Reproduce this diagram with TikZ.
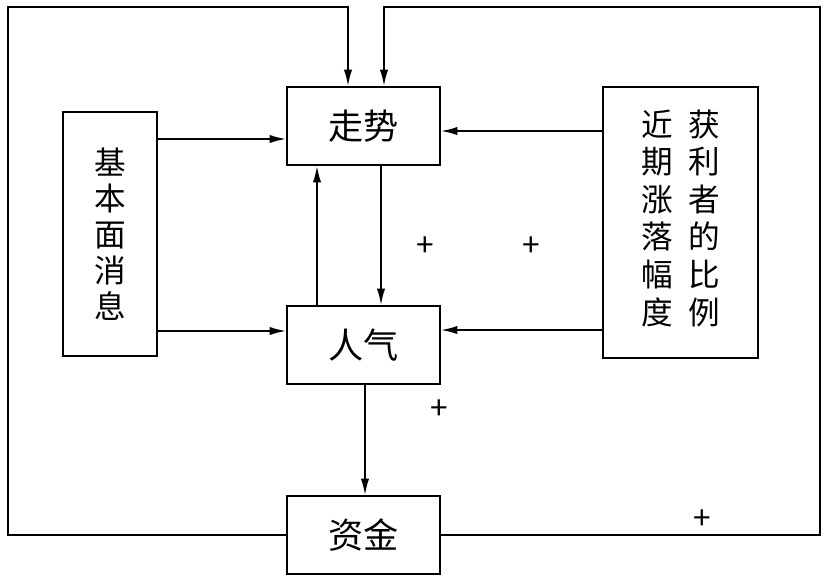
\documentclass[tikz,border=0pt]{standalone}
\usepackage{fontspec}
\setmainfont{Noto Sans CJK SC}
\usetikzlibrary{calc,shapes,arrows.meta}
\tikzstyle{every picture}=[->,>={Latex[length=14pt,width=7pt]}]

\begin{document}
\begin{tikzpicture}[x=0.3mm,y=-0.3mm,line width=1.5pt]
{
\useasboundingbox (0,0) rectangle (827,584);
\begin{scope}[every node/.style={rectangle,draw,line width=1.5pt,inner sep=0pt,align=center}]
    \node[minimum width=45.9mm,minimum height=23.4mm,font=\fontsize{30}{36}\selectfont](trend) at (363.5,126) {走势};
    \node[minimum width=45.9mm,minimum height=23.4mm,font=\fontsize{30}{36}\selectfont](mood) at (363.5,345) {人气};
    \node[minimum width=45.9mm,minimum height=23.4mm,font=\fontsize{30}{36}\selectfont](fund) at (363.5,535) {资金};
    \node[minimum width=28.2mm,minimum height=73.2mm,font=\fontsize{27}{30.7}\selectfont](news) at (110,234) {基\\本\\面\\消\\息};
    \node[minimum width=46.5mm,minimum height=81.3mm,font=\fontsize{27}{31.5}\selectfont](ratio) at (680.5,222.5)
        {\begin{tabular}{@{}c@{\hspace{13pt}}c@{}}
        近&获\\ 期&利\\ 涨&者\\ 落&的\\ 幅&比\\ 度&例\end{tabular}};
\end{scope}
\begin{scope}[every node/.style={font=\fontsize{27}{30}\selectfont}]
    \node(p1) at (425,247) {+};
    \node(p2) at (531,247) {+};
    \node(p3) at (439,410) {+};
    \node(p4) at (702,520) {+};
\end{scope}

% rows and columns of the connectors
\coordinate(r1) at (0,139);
\coordinate(r2) at (0,331);
\coordinate(r3) at (0,131);
\coordinate(r4) at (0,330);
\coordinate(c1) at (317,0);
\coordinate(c2) at (381,0);
\coordinate(c3) at (365,0);
\coordinate(lt) at (8,7);
\coordinate(rt) at (820,7);
\coordinate(la) at (348,7);
\coordinate(ra) at (384,7);

\path[draw] (news.east |- r1) -- (trend.west |- r1);
\path[draw] (news.east |- r2) -- (mood.west |- r2);
\path[draw] (ratio.west |- r3) -- (trend.east |- r3);
\path[draw] (ratio.west |- r4) -- (mood.east |- r4);
\path[draw] (trend.south -| c2) -- (mood.north -| c2);
\path[draw] (mood.north -| c1) -- (trend.south -| c1);
\path[draw] (mood.south -| c3) -- (fund.north -| c3);
\path[draw] (fund.west) -| (lt) -- (la) -- (trend.north -| la);
\path[draw] (fund.east) -| (rt) -- (ra) -- (trend.north -| ra);
%\path[-, draw] (mood) -- (fund);
}
\end{tikzpicture}
\end{document}
